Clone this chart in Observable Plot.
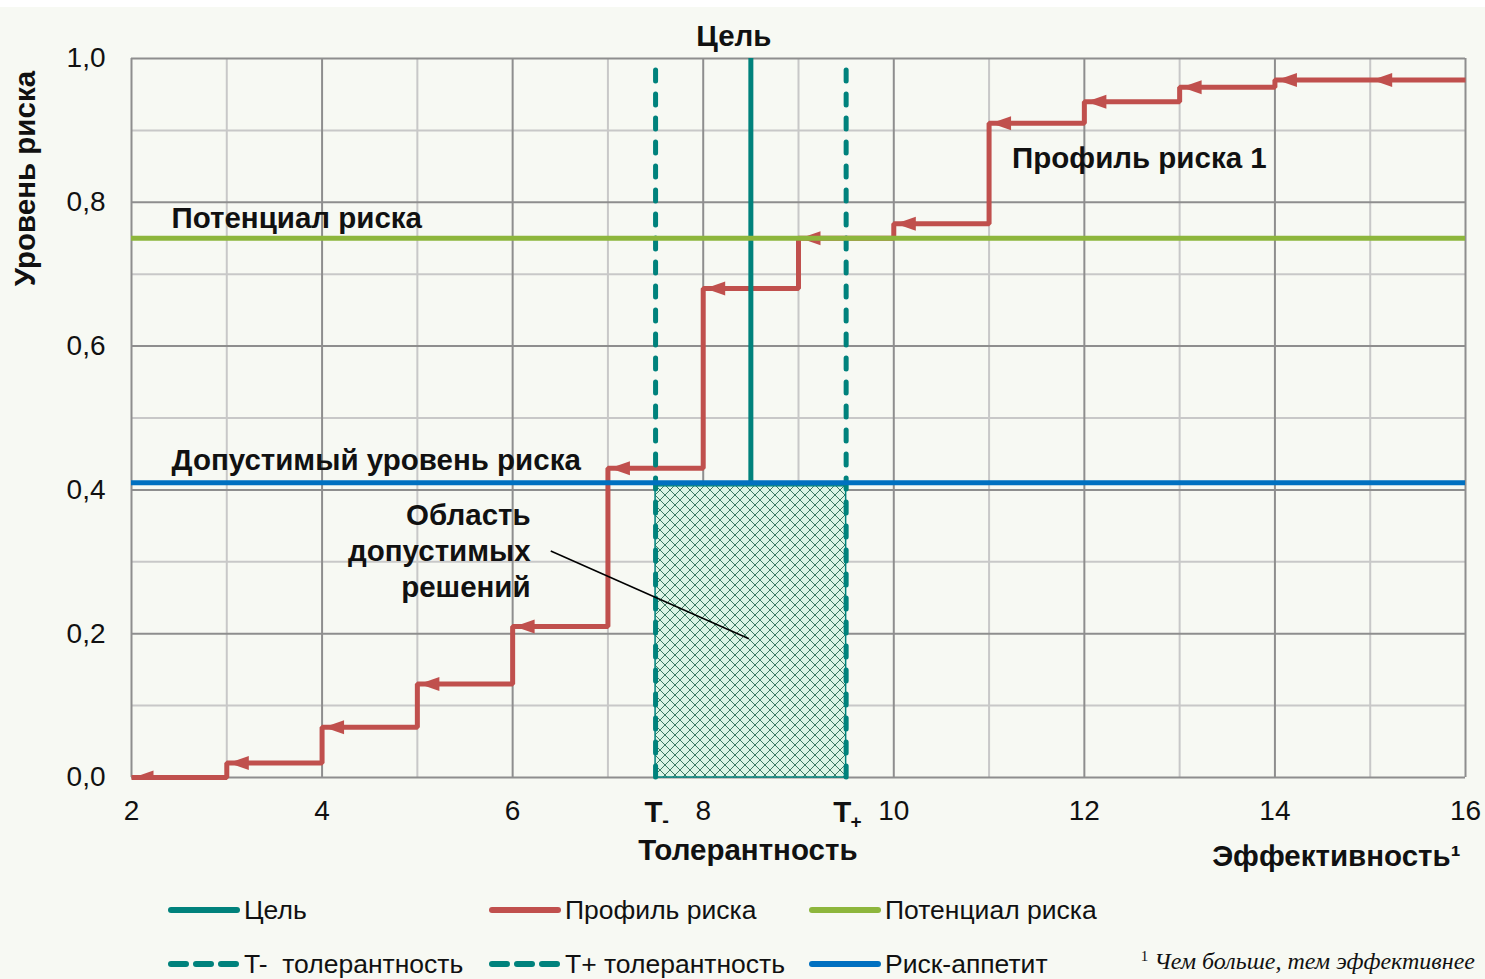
<!DOCTYPE html>
<html>
<head>
<meta charset="utf-8">
<script src="https://cdn.jsdelivr.net/npm/d3@7"></script>
<script src="https://cdn.jsdelivr.net/npm/@observablehq/plot@0.6"></script>
<style>
  html, body { margin: 0; padding: 0; }
  body { background: #f7f9f3; width: 1485px; height: 979px; position: relative; overflow: hidden;
         font-family: "Liberation Sans", Arial, sans-serif; }
  #topstrip { position: absolute; left: 0; top: 0; width: 1485px; height: 7px; background: #ffffff; z-index: 2; }
  #chart { position: absolute; left: 0; top: 0; }
  .lg { position: absolute; display: flex; align-items: center; font-size: 26.5px; color: #111; height: 30px; white-space: pre; }
  .lg svg { margin-right: 2px; }
  #note { position: absolute; right: 10px; top: 948px; font-family: "Liberation Serif", "DejaVu Serif", serif;
          font-size: 24px; color: #111; white-space: pre; }
  #note i { font-style: italic; }
  #note span { font-size: 15px; vertical-align: 8px; }
</style>
</head>
<body>
<div id="topstrip"></div>
<div id="chart"></div>
<div id="legend"></div>
<div id="note"><span>1</span> <i>Чем больше, тем эффективнее</i></div>
<script>
// ---- data ----
const profileX = [2, 3, 4, 5, 6, 7, 8, 9, 10, 11, 12, 13, 14, 15];
const profileY = [0.00, 0.02, 0.07, 0.13, 0.21, 0.43, 0.68, 0.75, 0.77, 0.91, 0.94, 0.96, 0.97, 0.97];
const profileEnd = 16;
const target = 8.5;
const tMinus = 7.5;
const tPlus = 9.5;
const riskPotential = 0.75;
const riskAppetite = 0.41;
const xTicks = [2, 4, 6, 8, 10, 12, 14, 16];
const xMinor = [3, 5, 7, 9, 11, 13, 15];
const yTicks = [0, 0.2, 0.4, 0.6, 0.8, 1.0];
const yMinor = [0.1, 0.3, 0.5, 0.7, 0.9];
const legendItems = ["Цель", "Профиль риска", "Потенциал риска", "T-  толерантность", "T+ толерантность", "Риск-аппетит"];

// ---- colours ----
const RED = "#c0504d", TEAL = "#00827c", GREEN = "#8db63c", BLUE = "#0070c0";
const MAJ = "#8e8e8e", MIN = "#c8c8c8";

// step line points
const pts = [];
profileX.forEach((x, i) => {
  const xe = i < profileX.length - 1 ? profileX[i + 1] : profileEnd;
  pts.push({x, y: profileY[i]}, {x: xe, y: profileY[i]});
});
const heads = profileX.map((x, i) => ({x, y: profileY[i]}));

const arrowLeft = {
  draw(ctx) { ctx.moveTo(2, 0); ctx.lineTo(22, -7); ctx.lineTo(22, 7); ctx.closePath(); }
};

const bold = {fontWeight: "bold", fontSize: 29.5, fill: "#111"};

const svg = Plot.plot({
  width: 1485,
  height: 880,
  marginLeft: 131,
  marginRight: 20,
  marginTop: 58,
  marginBottom: 103,
  style: {background: "transparent", fontFamily: "'Liberation Sans', Arial, sans-serif", fontSize: "28px", color: "#111", overflow: "visible"},
  x: {domain: [2, 16]},
  y: {domain: [0, 1]},
  marks: [
    Plot.ruleX(xMinor, {stroke: MIN, strokeWidth: 2}),
    Plot.ruleY(yMinor, {stroke: MIN, strokeWidth: 2}),
    Plot.ruleX(xTicks, {stroke: MAJ, strokeWidth: 2}),
    Plot.ruleY(yTicks, {stroke: MAJ, strokeWidth: 2}),
    // admissible region
    Plot.rect([{x1: tMinus, x2: tPlus, y1: 0, y2: riskAppetite - 0.005}],
      {x1: "x1", x2: "x2", y1: "y1", y2: "y2", fill: "url(#hatch)", stroke: TEAL, strokeWidth: 1.5}),
    // risk profile
    Plot.line(pts, {x: "x", y: "y", stroke: RED, strokeWidth: 5, strokeLinejoin: "miter", strokeLinecap: "butt"}),
    Plot.dot(heads, {x: "x", y: "y", symbol: arrowLeft, r: 8, fill: RED, stroke: "none", clip: true}),
    // tolerances
    Plot.ruleX([tMinus, tPlus], {y1: 0, y2: 1, stroke: TEAL, strokeWidth: 5, strokeDasharray: "11,13", strokeLinecap: "round"}),
    // target
    Plot.ruleX([target], {y1: riskAppetite, y2: 1, stroke: TEAL, strokeWidth: 5}),
    Plot.ruleY([riskPotential], {stroke: GREEN, strokeWidth: 5}),
    Plot.ruleY([riskAppetite], {stroke: BLUE, strokeWidth: 5}),
    // leader line
    Plot.link([{x1: 6.4, y1: 0.315, x2: 8.48, y2: 0.193}], {x1: "x1", y1: "y1", x2: "x2", y2: "y2", stroke: "#000", strokeWidth: 1.5}),
    // labels
    Plot.text(["Цель"], {x: [target], y: [1], dy: -22, dx: -17, ...bold}),
    Plot.text(["Потенциал риска"], {x: [2], y: [riskPotential], dx: 40, dy: -20, textAnchor: "start", ...bold}),
    Plot.text(["Допустимый уровень риска"], {x: [2], y: [riskAppetite], dx: 40, dy: -22, textAnchor: "start", ...bold}),
    Plot.text(["Профиль риска 1"], {x: [11], y: [0.91], dx: 23, dy: 35, textAnchor: "start", ...bold}),
    Plot.text(["Область\nдопустимых\nрешений"], {x: [6], y: [0.313], dx: 18, dy: -3, textAnchor: "end", lineHeight: 1.22, ...bold}),
    // axes
    Plot.axisY(yTicks, {tickSize: 0, tickPadding: 26, tickFormat: d => d.toFixed(1).replace(".", ","), fontSize: 28, label: null}),
    Plot.axisX(xTicks, {tickSize: 0, tickPadding: 23, fontSize: 28, label: null}),
    Plot.text(["T"], {x: [tMinus], y: [0], dy: 35, dx: -2, ...bold}),
    Plot.text(["-"], {x: [tMinus], y: [0], dy: 43, dx: 10, ...bold, fontSize: 20}),
    Plot.text(["T"], {x: [tPlus], y: [0], dy: 35, dx: -4, ...bold}),
    Plot.text(["+"], {x: [tPlus], y: [0], dy: 44, dx: 10, ...bold, fontSize: 19}),
    Plot.text(["Толерантность"], {x: [target], y: [0], dy: 73, dx: -3, ...bold}),
    Plot.text(["Эффективность¹"], {x: [16], y: [0], dy: 79, dx: -5, textAnchor: "end", ...bold}),
    Plot.text(["Уровень риска"], {frameAnchor: "left", y: [0.833], dx: -106, rotate: -90, textAnchor: "middle", ...bold})
  ]
});

d3.select(svg).insert("defs", ":first-child").html(`
  <pattern id="hatch" patternUnits="userSpaceOnUse" width="10" height="10">
    <rect width="10" height="10" fill="#dcf5e6"></rect>
    <path d="M0,0L10,10M10,0L0,10" stroke="#2b6b56" stroke-width="0.9" fill="none"></path>
  </pattern>`);

document.getElementById("chart").appendChild(svg);

// ---- legend ----
const lgStyles = [
  {color: TEAL, dash: null}, {color: RED, dash: null}, {color: GREEN, dash: null},
  {color: TEAL, dash: "15,10"}, {color: TEAL, dash: "15,10"}, {color: BLUE, dash: null}
];
const lgX = [167, 488, 808];
const lgY = [910, 964];
const legend = document.getElementById("legend");
legendItems.forEach((name, i) => {
  const col = i % 3, row = Math.floor(i / 3);
  const st = lgStyles[i];
  const div = document.createElement("div");
  div.className = "lg";
  div.style.left = lgX[col] + "px";
  div.style.top = (lgY[row] - 15) + "px";
  const s = d3.create("svg").attr("width", 75).attr("height", 12);
  s.append("line").attr("x1", 4).attr("x2", 70).attr("y1", 6).attr("y2", 6)
    .attr("stroke", st.color).attr("stroke-width", 6).attr("stroke-linecap", "round")
    .attr("stroke-dasharray", st.dash);
  div.appendChild(s.node());
  const t = document.createElement("span");
  t.textContent = name;
  div.appendChild(t);
  legend.appendChild(div);
});
</script>
</body>
</html>
